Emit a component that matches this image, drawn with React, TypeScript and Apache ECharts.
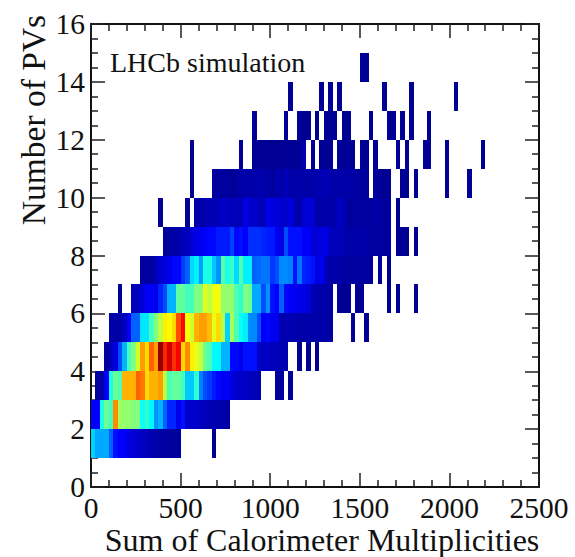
import React, { useEffect, useRef } from "react";
import * as echarts from "echarts";

const xAxisTitle = "Sum of Calorimeter Multiplicities";
const yAxisTitle = "Number of PVs";
const annotation = "LHCb simulation";
const binWidth = 25;
const binHeight = 1;

// Each row is one PV bin; each list starts at sum = 0 and runs in steps of binWidth. 0 = empty.
const row1 = [33,29,29,29,22,14,12,12,9,8, 7,6,5,4,3,3,2,2,2,2, 0,0,0,0,0,0,0,1];
const row2 = [12,12,40,48,44,74,53,52,52,50, 50,39,42,37,27,30,22,16,16,10, 14,7,7,7,5,5,4,4,4,3, 3];
const row3 = [0,2,3,12,40,48,45,70,70,70, 78,76,66,70,70,72,56,45,47,47, 44,32,32,42,25,20,18,15,13,11, 12,9,7,7,6,5,5,4,0,0, 0,2,2,0,1];
const row4 = [0,0,0,2,5,9,20,30,44,50, 58,72,66,78,72,98,84,92,83,88, 66,74,64,60,57,48,45,37,37,30, 30,13,13,10,14,14,14,7,6,6, 5,5,4,4,0,0,1,0,1,0, 1];
const row5 = [0,0,0,0,3,3,3,5,12,22, 22,35,35,44,50,56,64,63,66,80, 87,62,58,70,72,72,69,60,66,55, 33,54,45,38,36,26,26,20,12,13, 11,11,4,4,4,4,3,3,3,3, 3,3,3,2,0,0,0,0,1,0, 0,1];
const row6 = [0,0,0,0,0,0,1,0,0,5, 5,8,12,12,10,16,20,30,30,47, 47,44,44,50,50,60,56,61,61,52, 52,52,45,42,50,48,29,29,20,27, 14,12,22,13,12,11,10,10,8,4, 4,3,3,3,0,1,1,1,0,1, 1,0,0,0,0,0,1,0,1,0, 0,0,1];
const row7 = [0,0,0,0,0,0,0,0,0,0, 0,2,2,2,5,7,9,10,13,13, 18,22,34,36,28,40,40,32,27,46, 40,43,34,45,36,36,22,23,24,24, 18,20,26,26,25,14,24,16,15,14, 9,11,5,3,3,3,2,2,2,2, 2,2,2,0,1,0,1];
const row8 = [0,0,0,0,0,0,0,0,0,0, 0,0,0,0,0,0,2,2,3,3, 5,5,8,10,11,12,13,13,15,15, 15,19,13,14,12,17,17,17,16,15, 15,12,9,20,14,14,14,12,12,8, 8,9,10,6,5,5,4,3,3,3, 3,3,2,2,2,2,2,0,1,1, 1,0,1];
const row9 = [0,0,0,0,0,0,0,0,0,0, 0,0,0,0,0,1,0,0,0,0, 0,1,0,3,3,4,5,4,5,7, 6,5,5,4,10,7,7,5,5,11, 9,9,7,7,9,5,3,8,8,8, 3,3,3,3,3,6,5,2,2,2, 2,2,2,3,2,2,2,0,1];
const row10 = [0,0,0,0,0,0,0,0,0,0, 0,0,0,0,0,0,0,0,0,0, 0,0,1,0,0,0,0,2,2,2, 2,1,2,3,3,3,3,4,3,3, 2,4,3,5,3,3,3,3,3,3, 4,4,5,3,3,3,3,3,3,2, 2,2,0,2,1,1,1,0,0,1, 1,0,1,0,0,0,0,0,0,1, 0,0,0,0,1];
const row11 = [0,0,0,0,0,0,0,0,0,0, 0,0,0,0,0,0,0,0,0,0, 0,0,1,0,0,0,0,0,0,0, 0,0,0,1,0,0,1,1,1,1, 1,1,1,1,1,1,1,4,0,1, 0,1,1,1,0,1,1,1,1,0, 1,1,0,1,0,0,0,0,1,0, 1,0,0,0,1,1,0,0,0,1, 0,0,0,0,0,0,0,1];
const row12 = [0,0,0,0,0,0,0,0,0,0, 0,0,0,0,0,0,0,0,0,0, 0,0,0,0,0,0,0,0,0,0, 0,0,0,0,0,0,1,0,0,0, 0,0,0,1,0,0,1,1,1,0, 1,0,1,1,1,0,1,1,0,0, 0,0,1,0,0,0,1,1,0,1, 0,1,0,0,0,1];
const row13 = [0,0,0,0,0,0,0,0,0,0, 0,0,0,0,0,0,0,0,0,0, 0,0,0,0,0,0,0,0,0,0, 0,0,0,0,0,0,0,0,0,0, 0,0,0,0,1,0,0,0,0,0, 0,1,0,1,0,1,0,0,0,0, 0,0,0,0,0,1,0,0,0,0, 0,1,0,0,0,0,0,0,0,0, 0,1];
const row14 = [0,0,0,0,0,0,0,0,0,0, 0,0,0,0,0,0,0,0,0,0, 0,0,0,0,0,0,0,0,0,0, 0,0,0,0,0,0,0,0,0,0, 0,0,0,0,0,0,0,0,0,0, 0,0,0,0,0,0,0,0,0,0, 1,1];
const rows = [row1,row2,row3,row4,row5,row6,row7,row8,row9,row10,row11,row12,row13,row14];
const firstRowPV = 1;

const jet = ["#00008c","#0000ff","#0080ff","#00ffff","#80ff80","#ffff00","#ff8000","#ff0000","#800000"];

const cells: number[][] = [];
rows.forEach((row, r) => row.forEach((v, b) => {
  if (v > 0) cells.push([b * binWidth, firstRowPV + r * binHeight, v]);
}));

const serif = "'Liberation Serif', 'Times New Roman', serif";
const ink = "#111111";

const axisCommon = {
  axisLine: { show: true, onZero: false, lineStyle: { color: ink, width: 2 } },
  axisTick: { show: true, inside: true, length: 14, lineStyle: { color: "#222", width: 1.5 } },
  minorTick: { show: true, length: 7, lineStyle: { color: "#222", width: 1.5 } },
  splitLine: { show: false },
};
const labelStyle = { fontFamily: serif, fontSize: 29.5, color: ink, lineHeight: 22 };
const plainNumber = (v: number) => String(v);

export default function App() {
  const ref = useRef<HTMLDivElement>(null);
  useEffect(() => {
    const chart = echarts.init(ref.current!, null, { renderer: "svg" });
    const xBase = { type: "value", min: 0, max: 2500, interval: 500, ...axisCommon, minorTick: { ...axisCommon.minorTick, splitNumber: 5 } };
    const yBase = { type: "value", min: 0, max: 16, interval: 2, ...axisCommon, minorTick: { ...axisCommon.minorTick, splitNumber: 4 } };
    chart.setOption({
      animation: false,
      backgroundColor: "#ffffff",
      grid: { left: 91, top: 24, width: 448, height: 463, containLabel: false },
      xAxis: [
        { ...xBase, position: "bottom", axisLabel: { ...labelStyle, margin: 10, formatter: plainNumber } },
        { ...xBase, position: "top", axisLabel: { show: false } },
      ],
      yAxis: [
        { ...yBase, position: "left", axisLabel: { ...labelStyle, margin: 6, padding: [0, 0, 4, 0], formatter: plainNumber } },
        { ...yBase, position: "right", axisLabel: { show: false } },
      ],
      visualMap: { type: "continuous", show: false, min: 0, max: 100, dimension: 2, seriesIndex: 0, inRange: { color: jet } },
      series: [{
        type: "custom",
        xAxisIndex: 0,
        yAxisIndex: 0,
        data: cells,
        encode: { x: 0, y: 1 },
        renderItem: (_p: any, api: any) => {
          const x = api.value(0), y = api.value(1);
          const a = api.coord([x, y + binHeight]);
          const b = api.coord([x + binWidth, y]);
          const x0 = Math.round(a[0]), y0 = Math.round(a[1]);
          return {
            type: "rect",
            shape: { x: x0, y: y0, width: Math.round(b[0]) - x0, height: Math.round(b[1]) - y0 },
            style: { fill: api.visual("color") },
          };
        },
      }],
      graphic: [
        { type: "text", x: 322, y: 540, style: { text: xAxisTitle, fontFamily: serif, fontSize: 32, lineHeight: 24, fill: ink, textAlign: "center", textVerticalAlign: "middle" } },
        { type: "text", x: 33, y: 120, rotation: Math.PI / 2, style: { text: yAxisTitle, fontFamily: serif, fontSize: 33.5, fill: ink, textAlign: "center", textVerticalAlign: "middle" } },
        { type: "text", x: 110, y: 62, style: { text: annotation, fontFamily: serif, fontSize: 28, fill: ink, textAlign: "left", textVerticalAlign: "middle" } },
      ],
    });
    return () => chart.dispose();
  }, []);
  return <div ref={ref} style={{ position: "fixed", left: 0, top: 0, width: 575, height: 557 }} />;
}
